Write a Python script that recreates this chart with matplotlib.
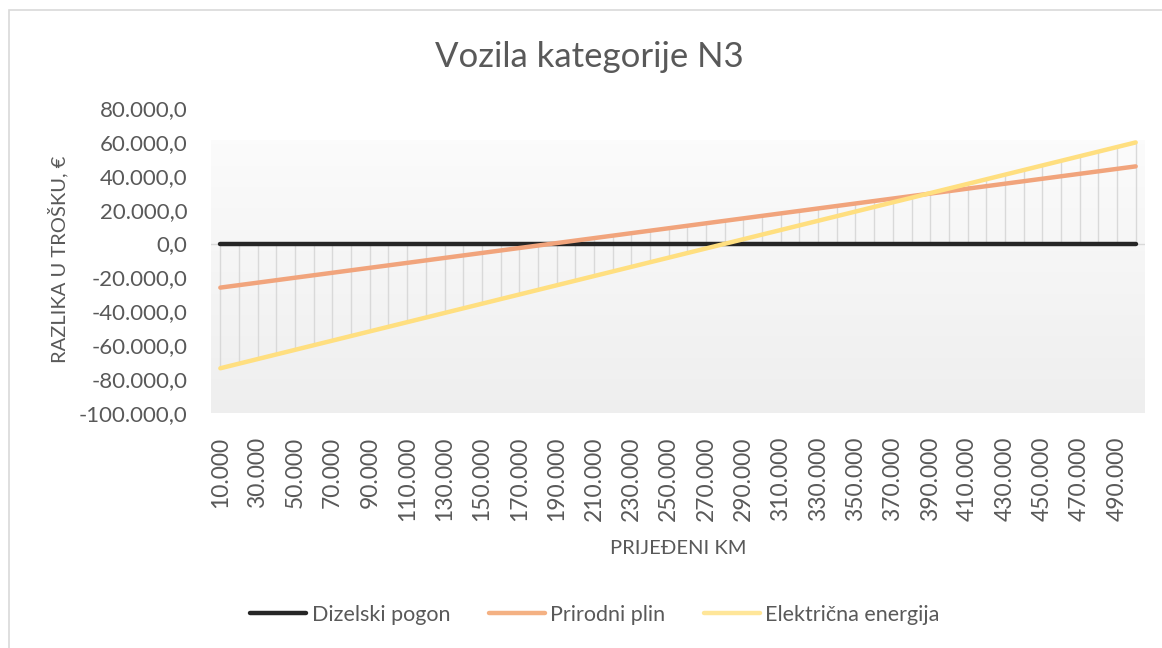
import matplotlib
matplotlib.use("Agg")
import matplotlib.pyplot as plt
import numpy as np
from matplotlib.patches import Rectangle
from matplotlib.lines import Line2D
from matplotlib.ticker import FuncFormatter

plt.rcParams['font.family'] = ['Lato', 'DejaVu Sans']

km = [10000, 20000, 30000, 40000, 50000, 60000, 70000, 80000, 90000, 100000,
      110000, 120000, 130000, 140000, 150000, 160000, 170000, 180000, 190000, 200000,
      210000, 220000, 230000, 240000, 250000, 260000, 270000, 280000, 290000, 300000,
      310000, 320000, 330000, 340000, 350000, 360000, 370000, 380000, 390000, 400000,
      410000, 420000, 430000, 440000, 450000, 460000, 470000, 480000, 490000, 500000]

dizel = [0] * 50

plin = [-26000, -24540, -23080, -21620, -20160, -18700, -17240, -15780, -14320, -12860,
        -11400, -9940, -8480, -7020, -5560, -4100, -2640, -1180, 280, 1740,
        3200, 4660, 6120, 7580, 9040, 10500, 11960, 13420, 14880, 16340,
        17800, 19260, 20720, 22180, 23640, 25100, 26560, 28020, 29480, 30940,
        32400, 33860, 35320, 36780, 38240, 39700, 41160, 42620, 44080, 45540]

struja = [-73600, -70880, -68160, -65440, -62720, -60000, -57280, -54560, -51840, -49120,
          -46400, -43680, -40960, -38240, -35520, -32800, -30080, -27360, -24640, -21920,
          -19200, -16480, -13760, -11040, -8320, -5600, -2880, -160, 2560, 5280,
          8000, 10720, 13440, 16160, 18880, 21600, 24320, 27040, 29760, 32480,
          35200, 37920, 40640, 43360, 46080, 48800, 51520, 54240, 56960, 59680]

series_names = ['Dizelski pogon', 'Prirodni plin', 'Električna energija']
series_colors = ['#262626', '#F4B183', '#FFE699']
line_colors = ['#262626', '#F1A47C', '#FFDF80']

title = 'Vozila kategorije N3'
xlabel = 'PRIJEĐENI KM'
ylabel = 'RAZLIKA U TROŠKU, €'

TXT = '#595959'


def fmt_hr(v, decimals=0):
    s = f"{abs(v):,.{decimals}f}"
    s = s.replace(',', 'X').replace('.', ',').replace('X', '.')
    return ('-' if v < 0 else '') + s


W, H = 1162, 648
fig = plt.figure(figsize=(W / 100, H / 100), dpi=100)
fig.patch.set_facecolor('white')

# outer chart border (only top/left visible)
fig.add_artist(Rectangle((9 / W, -0.1), 1.2, 1 - 10 / H + 0.1, transform=fig.transFigure,
                         fill=False, edgecolor='#d9d9d9', lw=1.2))

ax = fig.add_axes([211 / W, 1 - 413 / H, 934 / W, 305 / H])
x = np.arange(len(km))
ax.set_xlim(-0.5, len(km) - 0.5)
ax.set_ylim(-100000, 80000)

# gradient plot-area fill
grad = np.linspace(0.985, 0.935, 256).reshape(-1, 1)
ax.imshow(np.dstack([grad, grad, grad]), extent=(-0.5, len(km) - 0.5, -100000, 61000),
          aspect='auto', zorder=0, interpolation='bilinear')

ax.axhline(0, color='#d9d9d9', lw=1.0, zorder=1)

# high-low lines
allv = np.array([dizel, plin, struja])
ax.vlines(x, allv.min(axis=0), allv.max(axis=0), color='#d9d9d9', lw=1.0, zorder=2)

for vals, name, lc in zip([dizel, plin, struja], series_names, line_colors):
    ax.plot(x, vals, color=lc, lw=3.2, solid_capstyle='round', zorder=3, label=name)

for s in ax.spines.values():
    s.set_visible(False)

ax.set_yticks(np.arange(-100000, 80001, 20000))
ax.yaxis.set_major_formatter(FuncFormatter(lambda v, p: fmt_hr(v, 1)))
ax.set_xticks(x[::2])
ax.set_xticklabels([fmt_hr(k) for k in km[::2]], rotation=90)
ax.tick_params(axis='y', length=0, pad=17, labelsize=16, labelcolor=TXT)
ax.tick_params(axis='x', length=0, pad=17, labelsize=16.5, labelcolor=TXT)

fig.text(0.5 * (436 + 743) / W, 1 - 57 / H, title, ha='center', va='center',
         fontsize=25, color=TXT)
fig.text(58 / W, 1 - 259 / H, ylabel, rotation=90, ha='center', va='center',
         fontsize=14.5, color=TXT)
fig.text(678 / W, 1 - 548 / H, xlabel, ha='center', va='center', fontsize=14.5, color=TXT)

handles = [Line2D([0], [0], color=c, lw=3.2, solid_capstyle='round') for c in series_colors]
fig.legend(handles, series_names, loc='center', bbox_to_anchor=(595 / W, 1 - 615 / H),
           ncol=3, frameon=False, fontsize=15.5, labelcolor=TXT, handlelength=2.6,
           handletextpad=0.25, columnspacing=1.8)

fig.savefig('out.png', dpi=100, facecolor='white')
